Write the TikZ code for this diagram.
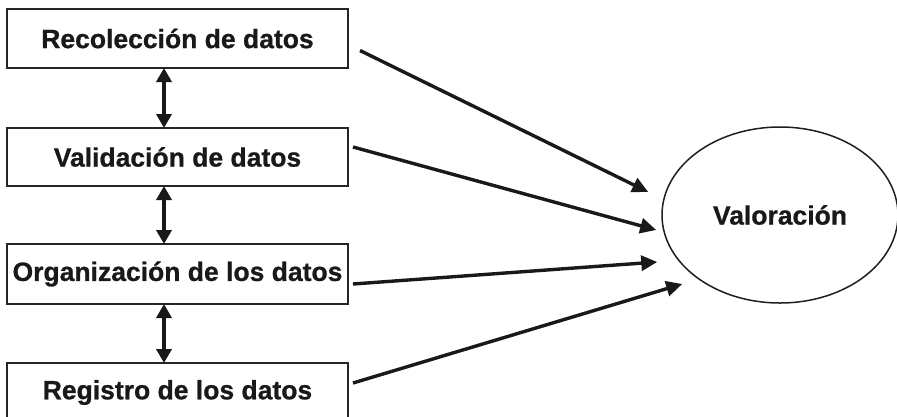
\documentclass[tikz,border=0pt]{standalone}
\usepackage{fontspec}
\setmainfont{Liberation Sans}
\newfontfamily\heavyfont{Liberation Sans Bold}[FakeBold=0.8]
\usetikzlibrary{arrows.meta,calc,shapes.geometric}
\begin{document}
\begin{tikzpicture}[x=1pt,y=-1pt,
  labelfont/.style={font=\fontsize{26.5}{30}\selectfont\heavyfont,text=black!90},
  stagebox/.style={draw=black!85,line width=1.7pt,minimum width=341pt,inner sep=0pt,outer sep=0pt,labelfont},
  link/.style={line width=3.6pt,draw=black!90,{Triangle[length=14pt,width=15pt]}-{Triangle[length=14pt,width=15pt]}},
  feed/.style={line width=3.4pt,draw=black!90,-{Triangle[length=16pt,width=15pt]}}]
\clip (0,0) rectangle (897,416);
\fill[white] (0,0) rectangle (897,416);
\node[stagebox,minimum height=59pt] (r1) at (177.5,38.5) {Recolección de datos};
\node[stagebox,minimum height=58pt] (r2) at (177.5,157) {Validación de datos};
\node[stagebox,minimum height=60pt] (r3) at (177.5,274) {Organización de los datos};
\node[stagebox,minimum height=59pt] (r4) at (177.5,392.5) {Registro de los datos};
\node[draw=black!88,line width=1.5pt,ellipse,minimum width=236pt,minimum height=176pt,inner sep=0pt,
  labelfont] (v) at (780,215) {Valoración};
\draw[link] ($(r1.south)+(-13.5,0)$) -- ($(r2.north)+(-13.5,0)$);
\draw[link] ($(r2.south)+(-13.5,0)$) -- ($(r3.north)+(-13.5,0)$);
\draw[link] ($(r3.south)+(-13.5,0)$) -- ($(r4.north)+(-13.5,0)$);
\coordinate (s1) at ($(r1.east)+(12,12)$);
\coordinate (s2) at ($(r2.east)+(5,-10)$);
\coordinate (s3) at ($(r3.east)+(5,10)$);
\coordinate (s4) at ($(r4.east)+(5,-9.5)$);
\coordinate (e1) at ($(v.west)+(-13,-23)$);
\coordinate (e2) at ($(v.west)+(-5,15)$);
\coordinate (e3) at ($(v.west)+(-4,47)$);
\coordinate (e4) at ($(v.west)+(21,69)$);
\draw[feed] (s1) -- (e1);
\draw[feed] (s2) -- (e2);
\draw[feed] (s3) -- (e3);
\draw[feed] (s4) -- (e4);
\end{tikzpicture}
\end{document}
